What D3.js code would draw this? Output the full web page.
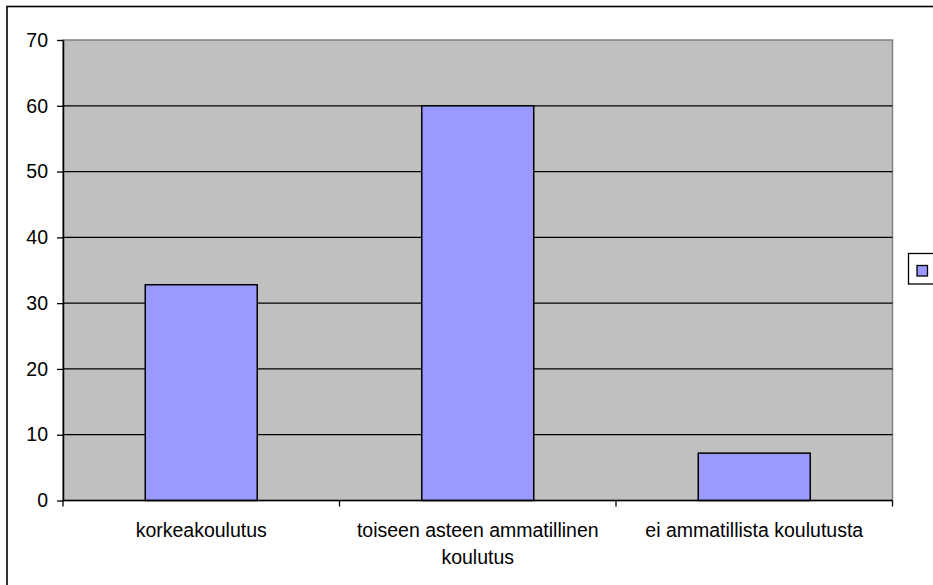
<!DOCTYPE html>
<html>
<head>
<meta charset="utf-8">
<script src="https://cdn.jsdelivr.net/npm/d3@7"></script>
<style>
  body { margin: 0; background: #fff; }
  svg { display: block; font-family: "Liberation Sans", Arial, sans-serif; }
</style>
</head>
<body>
<svg id="canvas" width="933" height="585"></svg>
<script>
const categories = ['korkeakoulutus', 'toiseen asteen ammatillinen koulutus', 'ei ammatillista koulutusta']
const labelLines = [['korkeakoulutus'], ['toiseen asteen ammatillinen', 'koulutus'], ['ei ammatillista koulutusta']]
const values = [32.8, 60, 7.2]
const yTicks = [0, 10, 20, 30, 40, 50, 60, 70]

const plot = { left: 63, top: 40, right: 892.5, bottom: 500.5 }
const barColor = '#9999ff'
const plotBg = '#c0c0c0'

let canvas = d3.select('#canvas')

let x = d3.scaleBand()
    .domain(categories)
    .range([plot.left, plot.right])
    .paddingInner(0.595)
    .paddingOuter(0.2975)

let y = d3.scaleLinear()
    .domain([0, 70])
    .range([plot.bottom, plot.top])

// outer chart border (right/bottom edges fall outside the window)
canvas.append('rect')
    .attr('x', 7).attr('y', 6.5)
    .attr('width', 960).attr('height', 600)
    .attr('fill', 'none')
    .attr('stroke', '#000')
    .attr('stroke-width', 1.6)

// plot background
canvas.append('rect')
    .attr('x', plot.left).attr('y', plot.top)
    .attr('width', plot.right - plot.left)
    .attr('height', plot.bottom - plot.top)
    .attr('fill', plotBg)
    .attr('stroke', '#808080')
    .attr('stroke-width', 1.5)

// gridlines
canvas.selectAll('line.grid')
    .data(yTicks.filter(d => d > 0 && d < 70))
    .enter()
    .append('line')
    .attr('class', 'grid')
    .attr('x1', plot.left).attr('x2', plot.right)
    .attr('y1', d => y(d)).attr('y2', d => y(d))
    .attr('stroke', '#000')
    .attr('stroke-width', 1.3)

// bars
canvas.selectAll('rect.bar')
    .data(values)
    .enter()
    .append('rect')
    .attr('class', 'bar')
    .attr('x', (d, i) => x(categories[i]))
    .attr('y', d => y(d))
    .attr('width', x.bandwidth())
    .attr('height', d => y(0) - y(d))
    .attr('fill', barColor)
    .attr('stroke', '#000')
    .attr('stroke-width', 1.5)

// y axis
let yAxis = d3.axisLeft(y)
    .tickValues(yTicks)
    .tickSize(6)
    .tickSizeOuter(0)
    .tickPadding(9)
canvas.append('g')
    .attr('transform', `translate(${plot.left},0)`)
    .call(yAxis)
    .call(g => g.select('.domain').attr('stroke-width', 1.5))
    .call(g => g.selectAll('.tick line').attr('stroke-width', 1.3))
    .call(g => g.selectAll('text')
        .attr('font-size', '19.5px')
        .attr('font-family', '"Liberation Sans", Arial, sans-serif')
        .attr('fill', '#000'))

// x axis line and boundary ticks
let step = x.step()
let bounds = d3.range(categories.length + 1).map(i => plot.left + i * step)
canvas.append('line')
    .attr('x1', plot.left).attr('x2', plot.right)
    .attr('y1', plot.bottom).attr('y2', plot.bottom)
    .attr('stroke', '#000')
    .attr('stroke-width', 1.5)
canvas.selectAll('line.xtick')
    .data(bounds)
    .enter()
    .append('line')
    .attr('class', 'xtick')
    .attr('x1', d => d).attr('x2', d => d)
    .attr('y1', plot.bottom).attr('y2', plot.bottom + 6)
    .attr('stroke', '#000')
    .attr('stroke-width', 1.3)

// category labels
let labels = canvas.selectAll('text.cat')
    .data(categories)
    .enter()
    .append('text')
    .attr('class', 'cat')
    .attr('x', d => x(d) + x.bandwidth() / 2)
    .attr('y', 537)
    .attr('text-anchor', 'middle')
    .attr('font-size', '19.5px')
    .attr('fill', '#000')
labels.selectAll('tspan')
    .data((d, i) => labelLines[i].map(t => ({ t, cx: x(d) + x.bandwidth() / 2 })))
    .enter()
    .append('tspan')
    .attr('x', d => d.cx)
    .attr('dy', (d, i) => i === 0 ? 0 : 26.7)
    .text(d => d.t)

// legend
canvas.append('rect')
    .attr('x', 908.5).attr('y', 253.5)
    .attr('width', 40).attr('height', 30.5)
    .attr('fill', '#fff')
    .attr('stroke', '#000')
    .attr('stroke-width', 1.3)
canvas.append('rect')
    .attr('x', 917).attr('y', 265.5)
    .attr('width', 10.5).attr('height', 10.5)
    .attr('fill', barColor)
    .attr('stroke', '#000')
    .attr('stroke-width', 1.3)
</script>
</body>
</html>
